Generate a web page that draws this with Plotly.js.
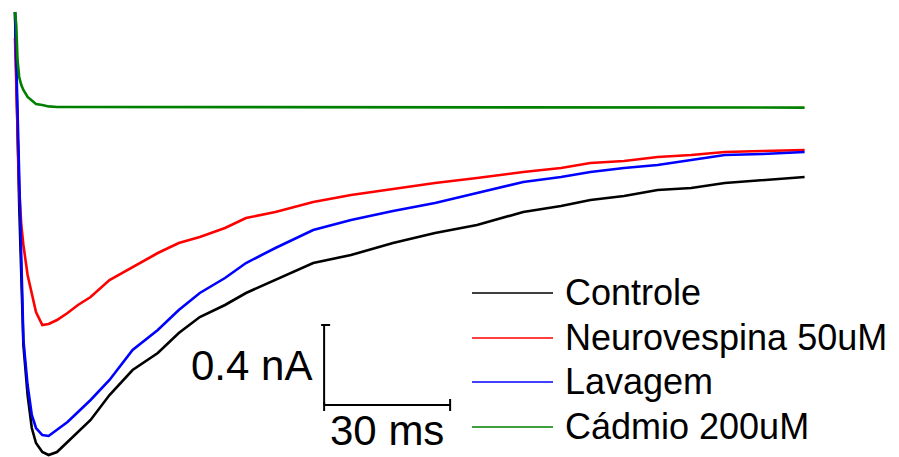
<!DOCTYPE html>
<html>
<head>
<meta charset="utf-8">
<script src="https://cdn.plot.ly/plotly-3.0.1.min.js"></script>
<style>html,body{margin:0;padding:0;background:#fff;}#chart{width:899px;height:457px;}</style>
</head>
<body>
<div id="chart"></div>
<script>
// time (ms) after the voltage step
const timeMs = [0, 0.3, 0.6, 1, 1.5, 2, 3, 4, 5, 6.5, 8, 10, 12.5, 15, 18, 22.5, 28, 34, 39, 44, 50, 55, 62, 71, 80, 90, 100, 110, 121, 130, 137, 145, 153, 161, 169, 178, 188];

// currents (nA)
const controle = [0.475, 0.235, -0.115, -0.49, -0.89, -1.19, -1.44, -1.605, -1.68, -1.725, -1.74, -1.725, -1.675, -1.625, -1.565, -1.44, -1.315, -1.23, -1.13, -1.05, -0.99, -0.93, -0.865, -0.78, -0.74, -0.68, -0.63, -0.59, -0.525, -0.495, -0.465, -0.445, -0.415, -0.405, -0.38, -0.365, -0.35];
const neurovespina = [0.345, 0.135, -0.115, -0.415, -0.59, -0.69, -0.84, -0.94, -1.025, -1.09, -1.085, -1.065, -1.03, -0.99, -0.95, -0.865, -0.8, -0.73, -0.68, -0.65, -0.605, -0.555, -0.525, -0.475, -0.44, -0.41, -0.38, -0.355, -0.325, -0.305, -0.28, -0.27, -0.25, -0.24, -0.225, -0.22, -0.215];
const lavagem = [0.475, 0.235, -0.115, -0.465, -0.865, -1.165, -1.39, -1.54, -1.605, -1.64, -1.645, -1.615, -1.575, -1.525, -1.465, -1.365, -1.215, -1.115, -1.015, -0.93, -0.855, -0.78, -0.705, -0.615, -0.565, -0.52, -0.48, -0.43, -0.375, -0.35, -0.325, -0.305, -0.29, -0.265, -0.24, -0.235, -0.225];
const cadmio = [0.475, 0.41, 0.235, 0.15, 0.11, 0.085, 0.05, 0.03, 0.015, 0.01, 0.003, 0, 0, 0, 0, 0, 0, 0, 0, 0, 0, 0, 0, 0, 0, 0, 0, 0, 0, 0, 0, 0, -0.002, -0.002, -0.003, -0.003, -0.003];

const seriesNames = ["Controle", "Neurovespina 50uM", "Lavagem", "Cádmio 200uM"];
const scaleBarMs = 30;
const scaleBarNA = 0.4;
const scaleLabels = ["0.4 nA", "30 ms"];

// ---- styling / layout ----
const W = 899, H = 457;
const colors = ["#000000", "#ff0000", "#0000ff", "#008000"];
const seriesData = [controle, neurovespina, lavagem, cadmio];
const font = "Liberation Sans, Arial, sans-serif";

const traces = seriesData.map((d, i) => ({
  type: "scatter", mode: "lines", x: timeMs, y: d, name: seriesNames[i],
  line: {color: colors[i], width: 2.6}, showlegend: false, hoverinfo: "skip"
}));

// scale bar anchor (data coords)
const sbT0 = 73.6, sbI0 = -1.49;
const capT = 3 / 4.2, capI = 6 / 200;
const shapes = [
  {type: "line", xref: "x", yref: "y", x0: sbT0, x1: sbT0, y0: sbI0, y1: sbI0 + scaleBarNA, line: {color: "#000", width: 2}},
  {type: "line", xref: "x", yref: "y", x0: sbT0, x1: sbT0 + scaleBarMs, y0: sbI0, y1: sbI0, line: {color: "#000", width: 2}},
  {type: "line", xref: "x", yref: "y", x0: sbT0 - capT, x1: sbT0 + 2 * capT, y0: sbI0 + scaleBarNA, y1: sbI0 + scaleBarNA, line: {color: "#000", width: 2}},
  {type: "line", xref: "x", yref: "y", x0: sbT0 + scaleBarMs, x1: sbT0 + scaleBarMs, y0: sbI0 - capI, y1: sbI0 + capI, line: {color: "#000", width: 2}},
  {type: "line", xref: "x", yref: "y", x0: sbT0, x1: sbT0, y0: sbI0 - capI, y1: sbI0 + capI * 0.5, line: {color: "#000", width: 2}}
];

const legendY = [293, 338, 382, 427];
const annotations = [];
legendY.forEach((py, i) => {
  shapes.push({type: "line", xref: "paper", yref: "paper", x0: 472 / W, x1: 553 / W, y0: 1 - py / H, y1: 1 - py / H, line: {color: colors[i], width: 1.3}});
  annotations.push({xref: "paper", yref: "paper", x: 563 / W, y: 1 - (py - 1) / H, xanchor: "left", yanchor: "middle", showarrow: false, text: seriesNames[i], font: {family: font, size: 36, color: "#000"}});
});
annotations.push({xref: "x", yref: "y", x: sbT0 - 2.5, y: sbI0 + scaleBarNA / 2, xanchor: "right", yanchor: "middle", showarrow: false, text: scaleLabels[0], font: {family: font, size: 42, color: "#000"}});
annotations.push({xref: "x", yref: "y", x: sbT0 + scaleBarMs / 2, y: sbI0, xanchor: "center", yanchor: "top", showarrow: false, text: scaleLabels[1], font: {family: font, size: 42, color: "#000"}});

const layout = {
  width: W, height: H,
  margin: {l: 0, r: 0, t: 0, b: 0},
  paper_bgcolor: "#fff", plot_bgcolor: "#fff",
  xaxis: {range: [-15 / 4.2, (W - 15) / 4.2], visible: false, fixedrange: true},
  yaxis: {range: [(107 - H) / 200, 107 / 200], visible: false, fixedrange: true},
  shapes: shapes, annotations: annotations, showlegend: false
};
Plotly.newPlot("chart", traces, layout, {staticPlot: true, displayModeBar: false});
</script>
</body>
</html>
